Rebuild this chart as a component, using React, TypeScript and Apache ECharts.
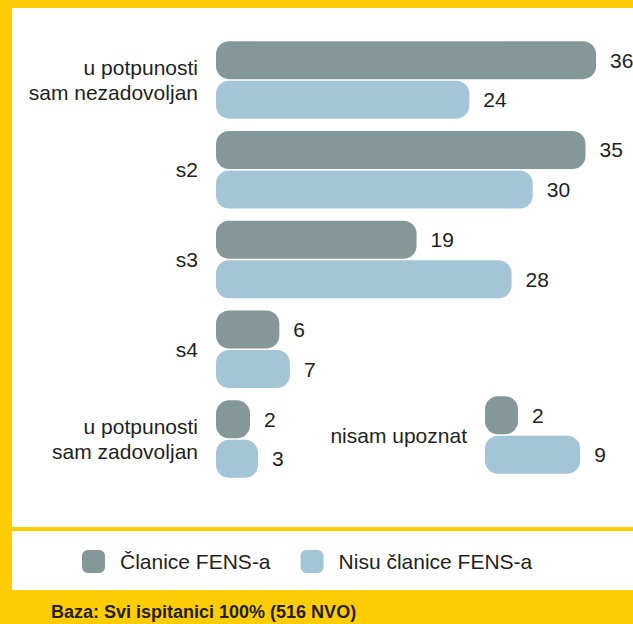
import React, { useEffect, useRef } from "react";
import * as echarts from "echarts";

const categories = [
  "u potpunosti\nsam nezadovoljan",
  "s2",
  "s3",
  "s4",
  "u potpunosti\nsam zadovoljan",
];
const clanice = [36, 35, 19, 6, 2];
const nisuClanice = [24, 30, 28, 7, 3];

const extraCategories = ["nisam upoznat"];
const claniceExtra = [2];
const nisuClaniceExtra = [9];

const seriesNames = ["Članice FENS-a", "Nisu članice FENS-a"];
const footnote = "Baza: Svi ispitanici 100% (516 NVO)";

const YELLOW = "#FFCC06";
const DARK = "#849899";
const LIGHT = "#A3C5D5";
const TEXT = "#231F20";
const FONT = "'Liberation Sans', Arial, Helvetica, sans-serif";

export default function App() {
  const ref = useRef<HTMLDivElement>(null);

  useEffect(() => {
    if (!ref.current) return;
    const chart = echarts.init(ref.current, undefined, { renderer: "svg" });

    const label = {
      show: true,
      position: "right",
      distance: 14,
      color: TEXT,
      fontSize: 21,
      fontFamily: FONT,
    };
    const common = {
      type: "bar",
      barWidth: 38,
      barGap: "4%",
      label,
    };

    const yAxisCommon = {
      type: "category",
      inverse: true,
      axisLine: { show: false },
      axisTick: { show: false },
      axisLabel: {
        color: TEXT,
        fontSize: 21,
        fontFamily: FONT,
        lineHeight: 25,
        margin: 18,
        align: "right",
      },
    };

    chart.setOption({
      animation: false,
      backgroundColor: YELLOW,
      textStyle: { fontFamily: FONT },
      graphic: [
        {
          type: "rect",
          shape: { x: 12, y: 8, width: 640, height: 519 },
          style: { fill: "#fff" },
          z: -10,
        },
        {
          type: "rect",
          shape: { x: 12, y: 531, width: 640, height: 59 },
          style: { fill: "#fff" },
          z: -10,
        },
        {
          type: "text",
          x: 51,
          y: 612,
          style: {
            text: footnote,
            fill: TEXT,
            font: `bold 18px ${FONT}`,
            textVerticalAlign: "middle",
          },
        },
      ],
      legend: {
        data: seriesNames,
        left: 82,
        top: 550,
        padding: 0,
        icon: "roundRect",
        itemWidth: 23,
        itemHeight: 23,
        itemGap: 30,
        textStyle: {
          color: TEXT,
          fontSize: 21,
          fontFamily: FONT,
          padding: [0, 0, 0, 10],
        },
      },
      grid: [
        { left: 216, top: 35, right: 0, height: 449, containLabel: false },
        { left: 485, top: 390, right: 0, height: 90, containLabel: false },
      ],
      xAxis: [
        { type: "value", min: 0, max: 39.5, show: false, gridIndex: 0 },
        { type: "value", min: 0, max: 14, show: false, gridIndex: 1 },
      ],
      yAxis: [
        { ...yAxisCommon, gridIndex: 0, data: categories },
        { ...yAxisCommon, gridIndex: 1, data: extraCategories },
      ],
      series: [
        {
          ...common,
          name: seriesNames[0],
          xAxisIndex: 0,
          yAxisIndex: 0,
          barMinHeight: 34,
          data: clanice,
          itemStyle: { color: DARK, borderRadius: 13 },
        },
        {
          ...common,
          name: seriesNames[1],
          xAxisIndex: 0,
          yAxisIndex: 0,
          barMinHeight: 42,
          data: nisuClanice,
          itemStyle: { color: LIGHT, borderRadius: 13 },
        },
        {
          ...common,
          name: seriesNames[0],
          xAxisIndex: 1,
          yAxisIndex: 1,
          barMinHeight: 33,
          data: claniceExtra,
          itemStyle: { color: DARK, borderRadius: 13 },
        },
        {
          ...common,
          name: seriesNames[1],
          xAxisIndex: 1,
          yAxisIndex: 1,
          barMinHeight: 33,
          data: nisuClaniceExtra,
          itemStyle: { color: LIGHT, borderRadius: 13 },
        },
      ],
    });

    return () => chart.dispose();
  }, []);

  return (
    <div
      ref={ref}
      style={{ position: "fixed", left: 0, top: 0, width: 633, height: 624 }}
    />
  );
}
